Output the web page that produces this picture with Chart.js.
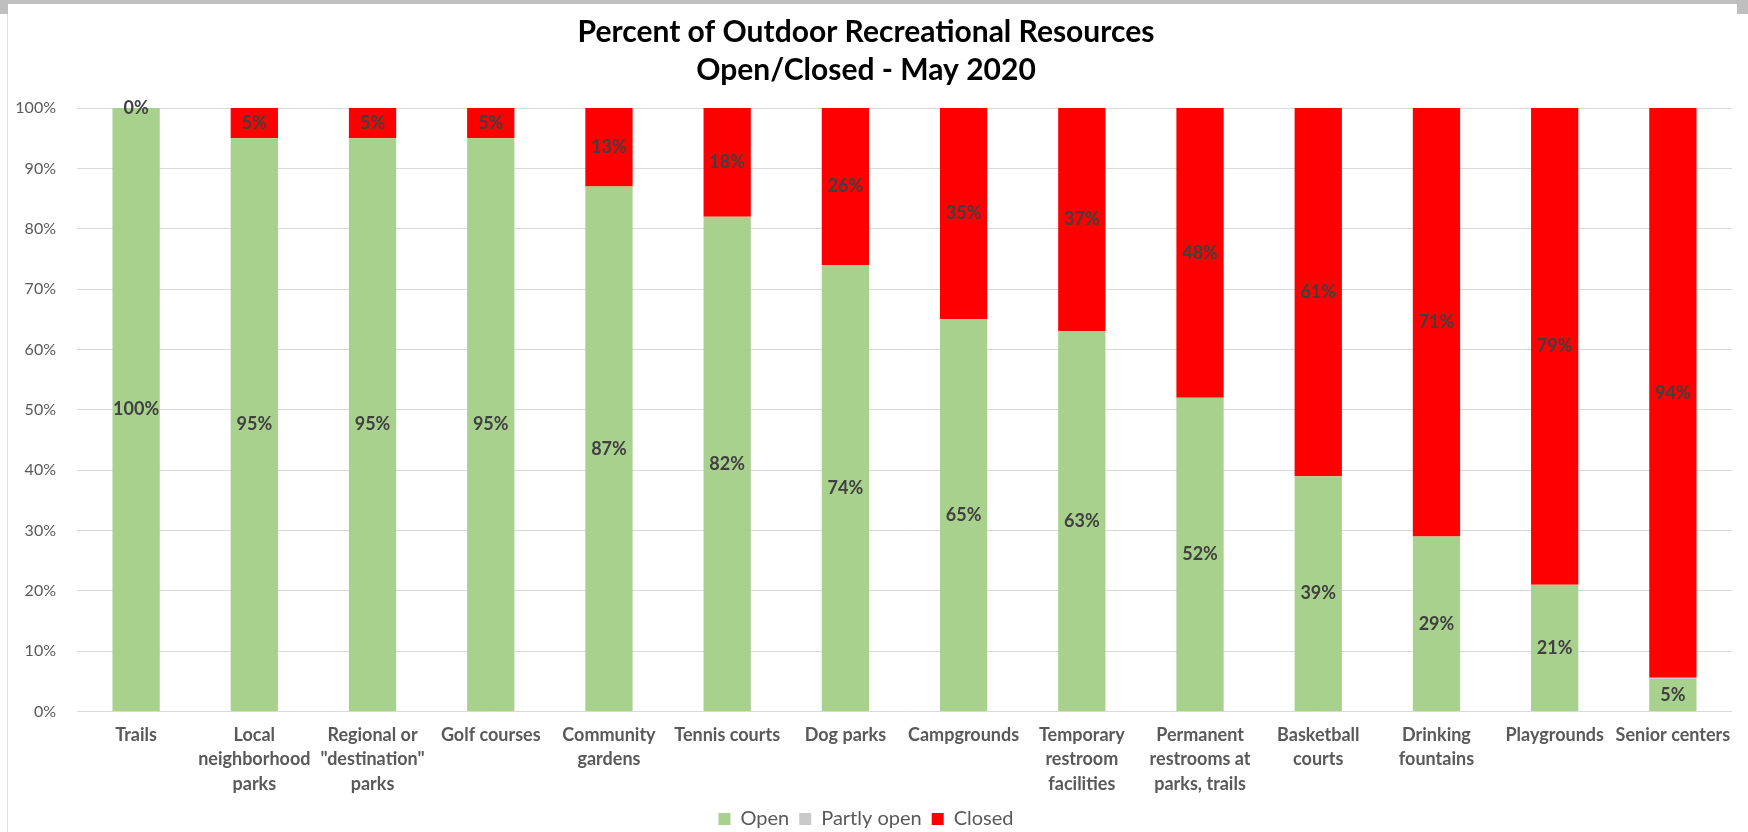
<!DOCTYPE html>
<html>
<head>
<meta charset="utf-8">
<script src="https://cdn.jsdelivr.net/npm/chart.js@4.4.0/dist/chart.umd.min.js"></script>
<style>
  html, body { margin: 0; padding: 0; background: #fff; }
  #wrap { position: relative; width: 1748px; height: 832px; overflow: hidden; }
  .frame { position: absolute; background: #bfbfbf; }
  canvas { position: absolute; left: 0; top: 0; }
</style>
</head>
<body>
<div id="wrap">
  <div class="frame" style="left:0;top:0;width:1748px;height:4px;"></div>
  <div class="frame" style="left:0;top:0;width:8px;height:14px;"></div>
  <div class="frame" style="left:1737px;top:0;width:11px;height:14px;"></div>
  <div class="frame" style="left:7px;top:14px;width:1px;height:818px;background:#e0e0e0;"></div>
  <canvas id="main-chart" width="1748" height="832"></canvas>
</div>
<script>
const categories = [
    'Trails',
    ['Local', 'neighborhood', 'parks'],
    ['Regional or', '"destination"', 'parks'],
    'Golf courses',
    ['Community', 'gardens'],
    'Tennis courts',
    'Dog parks',
    'Campgrounds',
    ['Temporary', 'restroom', 'facilities'],
    ['Permanent', 'restrooms at', 'parks, trails'],
    ['Basketball', 'courts'],
    ['Drinking', 'fountains'],
    'Playgrounds',
    'Senior centers'
];
const openVals = [100, 95, 95, 95, 87, 82, 74, 65, 63, 52, 39, 29, 21, 5.4];
const partlyVals = [0, 0, 0, 0, 0, 0, 0, 0, 0, 0, 0, 0, 0, 0.2];
const closedVals = [0, 5, 5, 5, 13, 18, 26, 35, 37, 48, 61, 71, 79, 94.4];
const yTicks = [0, 10, 20, 30, 40, 50, 60, 70, 80, 90, 100];

const FONT = "Lato, 'Open Sans', sans-serif";

// draws the percent labels in the middle of each segment
const segmentLabels = {
    id: 'segmentLabels',
    afterDatasetsDraw(chart) {
        const ctx = chart.ctx;
        ctx.save();
        ctx.font = "bold 18px " + FONT;
        ctx.fillStyle = '#404040';
        ctx.textAlign = 'center';
        ctx.textBaseline = 'middle';
        [0, 2].forEach(di => {
            const meta = chart.getDatasetMeta(di);
            const vals = chart.data.datasets[di].data;
            meta.data.forEach((bar, i) => {
                const y = (bar.y + bar.base) / 2;
                ctx.fillText(Math.round(vals[i]) + '%', bar.x, y);
            });
        });
        ctx.restore();
    }
};

let _ = new Chart(document.getElementById('main-chart').getContext('2d'), {
    type: 'bar',
    data: {
        labels: categories,
        datasets: [{
            label: 'Open',
            data: openVals,
            backgroundColor: '#a9d18e',
            barPercentage: 0.4,
            categoryPercentage: 1
        }, {
            label: 'Partly open',
            data: partlyVals,
            backgroundColor: '#c9c9c9',
            barPercentage: 0.4,
            categoryPercentage: 1
        }, {
            label: 'Closed',
            data: closedVals,
            backgroundColor: '#ff0000',
            barPercentage: 0.4,
            categoryPercentage: 1
        }]
    },
    options: {
        responsive: false,
        animation: false,
        layout: {
            padding: { left: 0, right: 16, top: 14, bottom: -7 }
        },
        plugins: {
            title: {
                display: true,
                text: ['Percent of Outdoor Recreational Resources', 'Open/Closed - May 2020'],
                color: '#000',
                font: { family: FONT, size: 30, weight: 'bold', lineHeight: 1.25 },
                padding: { top: 0, bottom: 19 }
            },
            legend: {
                position: 'bottom',
                labels: {
                    color: '#595959',
                    font: { family: FONT, size: 20 },
                    boxWidth: 12,
                    boxHeight: 12,
                    padding: 10
                }
            },
            tooltip: { enabled: false }
        },
        scales: {
            x: {
                stacked: true,
                grid: { display: false },
                border: { display: false },
                ticks: {
                    color: '#595959',
                    font: { family: FONT, size: 18, weight: 'bold', lineHeight: 1.36 },
                    maxRotation: 0,
                    autoSkip: false,
                    padding: 3
                }
            },
            y: {
                stacked: true,
                min: 0,
                max: 100,
                afterBuildTicks: axis => { axis.ticks = yTicks.map(v => ({ value: v })); },
                afterFit: axis => { axis.width = 77; },
                grid: { color: '#d9d9d9', drawTicks: false },
                border: { display: false },
                ticks: {
                    color: '#595959',
                    font: { family: FONT, size: 16 },
                    padding: 21,
                    callback: v => v + '%'
                }
            }
        }
    },
    plugins: [segmentLabels]
});
</script>
</body>
</html>
